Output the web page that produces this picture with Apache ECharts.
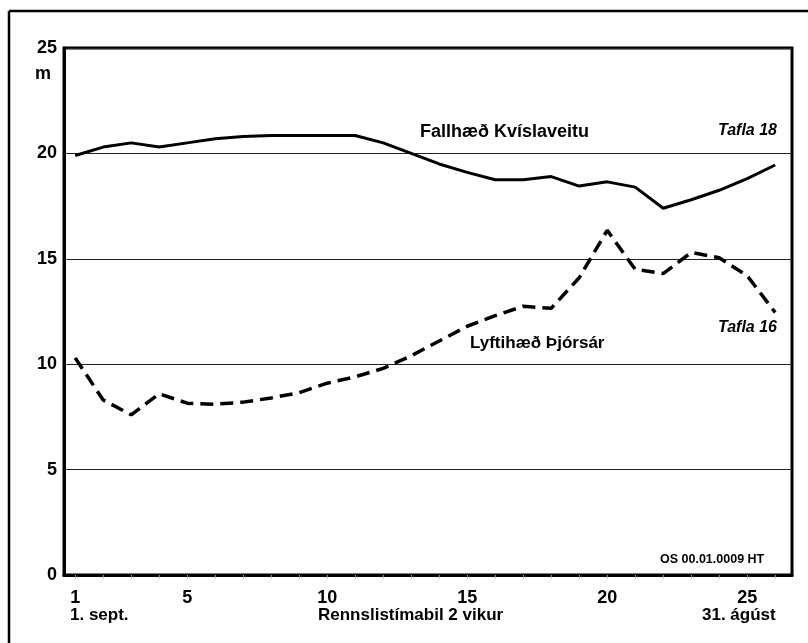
<!DOCTYPE html>
<html>
<head>
<meta charset="utf-8">
<title>Fallhæð og lyftihæð</title>
<script src="https://cdn.jsdelivr.net/npm/echarts@6/dist/echarts.min.js"></script>
<style>
  html, body { margin: 0; padding: 0; background: #fff; }
  #chart { width: 808px; height: 643px; }
</style>
</head>
<body>
<div id="chart"></div>
<script>
// periods (2-week intervals), 1 = 1. sept., 26 = 31. ágúst
var periods = [1,2,3,4,5,6,7,8,9,10,11,12,13,14,15,16,17,18,19,20,21,22,23,24,25,26];
// Fallhæð Kvíslaveitu (m)
var fallhaed = [19.9,20.3,20.5,20.3,20.5,20.7,20.8,20.85,20.85,20.85,20.85,20.5,20.0,19.5,19.1,18.75,18.75,18.9,18.45,18.65,18.4,17.4,17.8,18.25,18.8,19.45];
// Lyftihæð Þjórsár (m)
var lyftihaed = [10.3,8.3,7.6,8.6,8.15,8.1,8.2,8.4,8.65,9.1,9.4,9.8,10.4,11.1,11.8,12.3,12.75,12.65,14.1,16.35,14.5,14.3,15.3,15.05,14.2,12.45];
var xTickLabels = [1,5,10,15,20,25];

var chart = echarts.init(document.getElementById('chart'));
var font = '"Liberation Sans", Arial, sans-serif';

function pairs(vals) {
  var out = [];
  for (var i = 0; i < periods.length; i++) out.push([periods[i], vals[i]]);
  return out;
}

var option = {
  backgroundColor: '#fff',
  animation: false,
  grid: {
    left: 64, top: 48, right: 16, bottom: 68,
    show: true, borderColor: '#000', borderWidth: 3
  },
  xAxis: {
    type: 'value',
    min: 0.6, max: 26.6,
    axisLine: { show: true, lineStyle: { color: '#000', width: 3 } },
    axisTick: { show: true, customValues: periods, length: 3, lineStyle: { color: '#999', width: 1 } },
    axisLabel: {
      customValues: xTickLabels,
      color: '#000', fontFamily: font, fontWeight: 'bold', fontSize: 18, margin: 14
    },
    splitLine: { show: false }
  },
  yAxis: {
    type: 'value',
    min: 0, max: 25, interval: 5,
    axisLine: { show: true, lineStyle: { color: '#000', width: 3 } },
    axisTick: { show: false },
    axisLabel: {
      color: '#000', fontFamily: font, fontWeight: 'bold', fontSize: 18, margin: 7
    },
    splitLine: { show: true, lineStyle: { color: '#222', width: 1 } }
  },
  series: [
    {
      name: 'Fallhæð Kvíslaveitu',
      type: 'line',
      data: pairs(fallhaed),
      symbol: 'none',
      lineStyle: { color: '#000', width: 3 }
    },
    {
      name: 'Lyftihæð Þjórsár',
      type: 'line',
      data: pairs(lyftihaed),
      symbol: 'none',
      lineStyle: { color: '#000', width: 3.5, type: [13, 7] }
    }
  ],
  graphic: [
    // outer frame
    { type: 'line', shape: { x1: 9, y1: 11, x2: 808, y2: 11 }, style: { stroke: '#000', lineWidth: 2.5 } },
    { type: 'line', shape: { x1: 9, y1: 11, x2: 9, y2: 643 }, style: { stroke: '#000', lineWidth: 2.5 } },
    { type: 'text', left: 35, top: 65, style: { text: 'm', font: 'bold 18px ' + font, fill: '#000' } },
    { type: 'text', left: 420, top: 123, style: { text: 'Fallhæð Kvíslaveitu', font: 'bold 18px ' + font, fill: '#000' } },
    { type: 'text', left: 718, top: 123, style: { text: 'Tafla 18', font: 'italic bold 16px ' + font, fill: '#000' } },
    { type: 'text', left: 470, top: 335, style: { text: 'Lyftihæð Þjórsár', font: 'bold 17px ' + font, fill: '#000' } },
    { type: 'text', left: 718, top: 320, style: { text: 'Tafla 16', font: 'italic bold 16px ' + font, fill: '#000' } },
    { type: 'text', left: 660, top: 553, style: { text: 'OS 00.01.0009 HT', font: 'bold 12.5px ' + font, fill: '#000' } },
    { type: 'text', left: 70, top: 607, style: { text: '1. sept.', font: 'bold 17px ' + font, fill: '#000' } },
    { type: 'text', left: 318, top: 607, style: { text: 'Rennslistímabil 2 vikur', font: 'bold 17px ' + font, fill: '#000' } },
    { type: 'text', left: 702, top: 607, style: { text: '31. ágúst', font: 'bold 17px ' + font, fill: '#000' } }
  ]
};
chart.setOption(option);
</script>
</body>
</html>
